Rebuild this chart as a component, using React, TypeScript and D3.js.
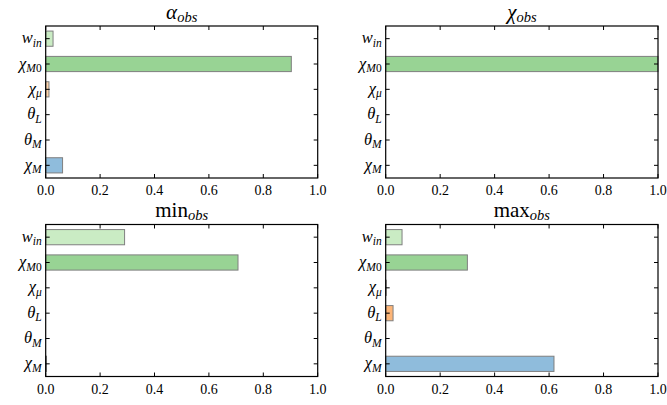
import React from "react";
import * as d3 from "d3";

// Categories, top to bottom
const categories = ["w_in", "chi_M0", "chi_mu", "theta_L", "theta_M", "chi_M"];
const catBase = ["w", "χ", "χ", "θ", "θ", "χ"];
const catSub = ["in", "M0", "μ", "L", "M", "M"];
const catColors = ["#caecc4", "#98d394", "#fdd3aa", "#fdb577", "#fd8d3c", "#8fbcdc"];

// Series values (same order as categories)
const alphaObs = [0.027, 0.903, 0.012, 0, 0, 0.062];
const chiObs = [0, 1.0, 0, 0, 0, 0];
const minObs = [0.29, 0.707, 0, 0, 0, 0.003];
const maxObs = [0.06, 0.3, 0.002, 0.027, 0, 0.618];

const xTicks = [0, 0.2, 0.4, 0.6, 0.8, 1.0];
const titles = [
  { base: "α", sub: "obs", italicBase: true },
  { base: "χ", sub: "obs", italicBase: true },
  { base: "min", sub: "obs", italicBase: false },
  { base: "max", sub: "obs", italicBase: false },
];
const panelValues = [alphaObs, chiObs, minObs, maxObs];

const W = 667;
const H = 405;
const FONT = "'Liberation Serif', 'Times New Roman', serif";

const panelsPos = [
  { x0: 45.7, x1: 317.7, y0: 26, y1: 178 },
  { x0: 385.7, x1: 658, y0: 26, y1: 178 },
  { x0: 45.7, x1: 317.7, y0: 224.5, y1: 376.5 },
  { x0: 385.7, x1: 658, y0: 224.5, y1: 376.5 },
];

function SubLabel({ cat, x, y }: { cat: number; x: number; y: number }) {
  const sub = catSub[cat];
  return (
    <text x={x} y={y} textAnchor="end" style={{ fontFamily: FONT }} fontSize={16.5} fill="#000">
      <tspan fontStyle="italic">{catBase[cat]}</tspan>
      {sub === "M0" ? (
        <>
          <tspan fontSize={11.5} dy={3.5} fontStyle="italic">M</tspan>
          <tspan fontSize={11.5}>0</tspan>
        </>
      ) : (
        <tspan fontSize={11.5} dy={3.5} fontStyle="italic">{sub}</tspan>
      )}
    </text>
  );
}

function Panel({ idx }: { idx: number }) {
  const p = panelsPos[idx];
  const values = panelValues[idx];
  const t = titles[idx];
  const x = d3.scaleLinear().domain([0, 1]).range([p.x0, p.x1]);
  const y = d3.scalePoint<string>().domain(categories).range([p.y0, p.y1]).padding(0.5);
  const step = y.step();
  const barH = step * 0.6;
  const tick = 4;
  const cx = (p.x0 + p.x1) / 2;
  return (
    <g>
      <text x={cx} y={p.y0 - 7.5} textAnchor="middle" style={{ fontFamily: FONT }} fontSize={21} fill="#000">
        <tspan fontStyle={t.italicBase ? "italic" : "normal"}>{t.base}</tspan>
        <tspan fontSize={14.5} dy={3} fontStyle="italic">{t.sub}</tspan>
      </text>
      {categories.map((c, i) => {
        const v = values[i];
        if (v <= 0) return null;
        const yc = y(c)!;
        return (
          <rect
            key={c}
            x={x(0)}
            y={yc - barH / 2}
            width={Math.max(x(v) - x(0), 0.5)}
            height={barH}
            fill={catColors[i]}
            stroke="#7f7f7f"
            strokeWidth={1}
          />
        );
      })}
      {categories.map((c, i) => {
        const yc = y(c)!;
        return (
          <g key={"yt" + c}>
            <line x1={p.x0} x2={p.x0 + tick} y1={yc} y2={yc} stroke="#000" strokeWidth={1} />
            <line x1={p.x1} x2={p.x1 - tick} y1={yc} y2={yc} stroke="#000" strokeWidth={1} />
            <SubLabel cat={i} x={p.x0 - 4} y={yc + 4.5} />
          </g>
        );
      })}
      {xTicks.map((v) => (
        <g key={"xt" + v}>
          <line x1={x(v)} x2={x(v)} y1={p.y0} y2={p.y0 + tick} stroke="#000" strokeWidth={1} />
          <line x1={x(v)} x2={x(v)} y1={p.y1} y2={p.y1 - tick} stroke="#000" strokeWidth={1} />
          <text x={x(v)} y={p.y1 + 17} textAnchor="middle" style={{ fontFamily: FONT }} fontSize={14} fill="#000">
            {d3.format(".1f")(v)}
          </text>
        </g>
      ))}
      <rect x={p.x0} y={p.y0} width={p.x1 - p.x0} height={p.y1 - p.y0} fill="none" stroke="#000" strokeWidth={1.2} />
    </g>
  );
}

export default function App() {
  return (
    <svg
      width={W}
      height={H}
      viewBox={`0 0 ${W} ${H}`}
      style={{ position: "absolute", left: 0, top: 0, display: "block", background: "#fff" }}
    >
      <rect x={0} y={0} width={W} height={H} fill="#fff" />
      {panelValues.map((_, i) => (
        <Panel key={i} idx={i} />
      ))}
    </svg>
  );
}
